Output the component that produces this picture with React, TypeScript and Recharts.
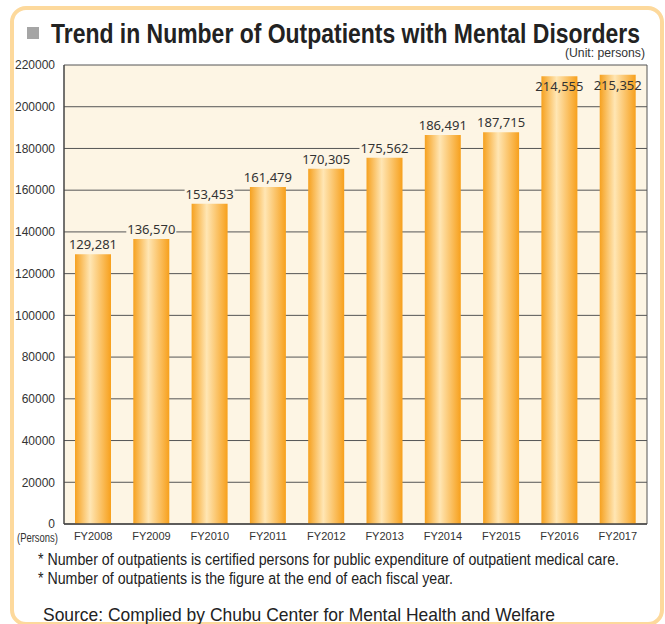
import React from 'react';
import { BarChart, Bar, XAxis, YAxis, CartesianGrid, LabelList } from 'recharts';

const categories = ['FY2008', 'FY2009', 'FY2010', 'FY2011', 'FY2012', 'FY2013', 'FY2014', 'FY2015', 'FY2016', 'FY2017'];
const outpatients = [129281, 136570, 153453, 161479, 170305, 175562, 186491, 187715, 214555, 215352];
const yTicks = [0, 20000, 40000, 60000, 80000, 100000, 120000, 140000, 160000, 180000, 200000, 220000];

const titleText = 'Trend in Number of Outpatients with Mental Disorders';
const unitText = '(Unit: persons)';
const axisUnitText = '(Persons)';
const noteTexts = [
  '* Number of outpatients is certified persons for public expenditure of outpatient medical care.',
  '* Number of outpatients is the figure at the end of each fiscal year.',
];
const sourceText = 'Source: Complied by Chubu Center for Mental Health and Welfare';

const data = categories.map((c, i) => ({ year: c, value: outpatients[i] }));

const SANS = "'Liberation Sans', Arial, sans-serif";
const LABEL_FONT = "'Noto Sans', 'Open Sans', sans-serif";

const renderLabel = (props: any) => {
  const { x, y, width, value } = props;
  const cx = x + width / 2;
  const inside = value > 200000;
  const text = Number(value).toLocaleString('en-US');
  const ty = inside ? y + 15 : y - 5;
  return (
    <g>
      {!inside && <rect x={cx - 25} y={ty - 13} width={50} height={16} fill="#FDF5E4" />}
      <text x={cx} y={ty} textAnchor="middle" fontSize={13} fontFamily={LABEL_FONT} fill="#333">
        {text}
      </text>
    </g>
  );
};

export default function App() {
  return (
    <div style={{ position: 'absolute', left: 0, top: 0, width: 665, height: 624, background: '#fff', overflow: 'hidden' }}>
      <div style={{ position: 'absolute', left: 10, top: 6, width: 654, height: 620, border: '4px solid #FDD99C', borderRadius: 16, boxSizing: 'border-box' }} />
      <div style={{ position: 'absolute', left: 0, top: 0 }}>
        <BarChart width={665} height={624} data={data} margin={{ top: 65, right: 18, bottom: 70, left: 10 }}>
          <defs>
            <linearGradient id="barGrad" x1="0" y1="0" x2="1" y2="0">
              <stop offset="0%" stopColor="#F6A11F" />
              <stop offset="42%" stopColor="#FFE6B4" />
              <stop offset="100%" stopColor="#F7A01C" />
            </linearGradient>
          </defs>
          <CartesianGrid
            fill="#FDF5E4"
            stroke="#555"
            strokeWidth={1}
            verticalCoordinatesGenerator={({ offset }: any) => [offset.left + offset.width]}
          />
          <XAxis
            dataKey="year"
            axisLine={{ stroke: '#444', strokeWidth: 1.5 }}
            tickLine={false}
            tick={{ fill: '#333', fontSize: 11, fontFamily: SANS }}
            height={30}
            tickMargin={2}
            interval={0}
          />
          <YAxis
            domain={[0, 220000]}
            ticks={yTicks}
            axisLine={{ stroke: '#444', strokeWidth: 1.5 }}
            tickLine={false}
            tick={{ fill: '#333', fontSize: 12, fontFamily: SANS }}
            width={54}
            tickMargin={3}
            interval={0}
          />
          <Bar dataKey="value" fill="url(#barGrad)" barSize={36} isAnimationActive={false}>
            <LabelList dataKey="value" content={renderLabel} />
          </Bar>
        </BarChart>
      </div>
      <svg width={665} height={624} style={{ position: 'absolute', left: 0, top: 0, pointerEvents: 'none' }}>
        <rect x={27} y={27} width={12} height={12} fill="#A5A5A5" />
        <text x={51} y={43} fontSize={28} fontWeight="bold" fontFamily={SANS} fill="#222" textLength={589} lengthAdjust="spacingAndGlyphs">
          {titleText}
        </text>
        <text x={645} y={57} fontSize={12.5} fontFamily={SANS} fill="#333" textAnchor="end" textLength={80} lengthAdjust="spacingAndGlyphs">
          {unitText}
        </text>
        <text x={17} y={542} fontSize={12} fontFamily={SANS} fill="#333" textLength={41} lengthAdjust="spacingAndGlyphs">
          {axisUnitText}
        </text>
        <text x={38} y={565} fontSize={16} fontFamily={SANS} fill="#222" textLength={581} lengthAdjust="spacingAndGlyphs">
          {noteTexts[0]}
        </text>
        <text x={38} y={584} fontSize={16} fontFamily={SANS} fill="#222" textLength={415} lengthAdjust="spacingAndGlyphs">
          {noteTexts[1]}
        </text>
        <text x={43} y={621} fontSize={19} fontFamily={SANS} fill="#222" textLength={512} lengthAdjust="spacingAndGlyphs">
          {sourceText}
        </text>
      </svg>
    </div>
  );
}
